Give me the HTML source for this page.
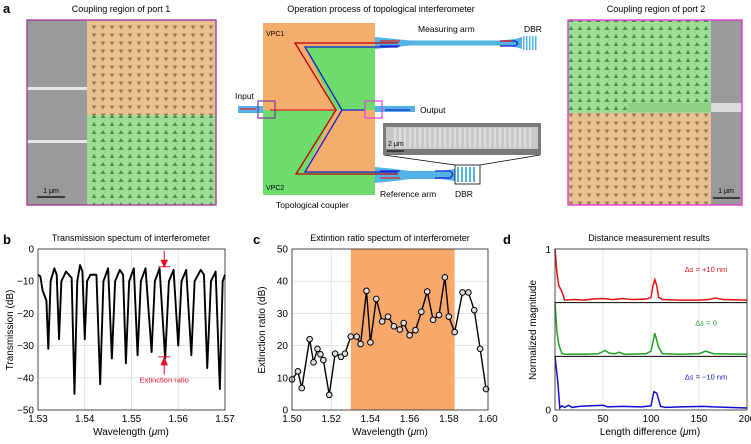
<!DOCTYPE html>
<html><head><meta charset="utf-8"><style>
body{margin:0;background:#fff;}
svg{display:block;font-family:"Liberation Sans",sans-serif;}
</style></head><body>
<svg id="fig" width="751" height="444" viewBox="0 0 751 444">
<defs>
<pattern id="triDown" width="9" height="8" patternUnits="userSpaceOnUse">
<rect width="9" height="8" fill="#e9c193"/><polygon points="1.5,1.5 6.5,1.5 4,5.5" fill="#9c7d55"/></pattern>
<pattern id="triUp" width="9" height="8" patternUnits="userSpaceOnUse">
<rect width="9" height="8" fill="#9fdc98"/><polygon points="1.5,6 6.5,6 4,2" fill="#4f8f4b"/></pattern>
</defs>
<text x="3" y="13" font-size="13" font-weight="bold">a</text>
<text x="121" y="12" font-size="9" text-anchor="middle">Coupling region of port 1</text>
<g>
<rect x="27" y="20" width="60" height="185" fill="#9a9a9a"/>
<rect x="27" y="87" width="60" height="3" fill="#e8e8e8"/>
<rect x="27" y="140" width="60" height="3" fill="#e8e8e8"/>
<rect x="87" y="20" width="129" height="95" fill="url(#triDown)"/>
<rect x="87" y="115" width="129" height="90" fill="url(#triUp)"/>
<line x1="37" y1="197" x2="65" y2="197" stroke="#000" stroke-width="1.2"/>
<text x="51" y="193" font-size="7" text-anchor="middle">1 μm</text>
<rect x="27" y="20" width="189" height="185" fill="none" stroke="#a0309a" stroke-width="1.3"/>
</g>
<text x="381" y="12" font-size="9" text-anchor="middle">Operation process of topological interferometer</text>
<g>
<rect x="263" y="23" width="112" height="172" fill="#f4ad6c"/>
<polygon points="305,46 375,46 375,110 335,110" fill="#6ddc6c"/>
<polygon points="263,110 335,110 305,172 375,172 375,195 263,195" fill="#6ddc6c"/>
</g>
<g fill="#52b4e6">
<rect x="238" y="106" width="25" height="7"/>
<polygon points="375,37 395,39 410,40.5 500,40.5 515,39 522,37 522,49 515,47 500,45.5 410,45.5 395,47 375,49"/>
<polygon points="375,167 395,169 410,171 440,171 455,169 455,181 440,179 410,179 395,181 375,183"/>
<rect x="375" y="106" width="40" height="6"/>
<rect x="522" y="36" width="14" height="14" fill="#fff"/>
</g>
<g fill="#52b4e6">
<rect x="523" y="36" width="1.5" height="14"/><rect x="526" y="36" width="1.5" height="14"/><rect x="529" y="36" width="1.5" height="14"/><rect x="532" y="36" width="1.5" height="14"/><rect x="535" y="36" width="1.5" height="14"/>
</g>
<g>
<rect x="455" y="165" width="25" height="19" fill="#fff" stroke="#000" stroke-width="0.8"/>
<g fill="#52b4e6"><rect x="457" y="167" width="2" height="15"/><rect x="461" y="167" width="2" height="15"/><rect x="465" y="167" width="2" height="15"/><rect x="469" y="167" width="2" height="15"/><rect x="473" y="167" width="2" height="15"/></g>
<line x1="455" y1="165" x2="384" y2="155" stroke="#000" stroke-width="0.7"/>
<line x1="480" y1="165" x2="540" y2="155" stroke="#000" stroke-width="0.7"/>
</g>
<g>
<rect x="383" y="123" width="158" height="32" fill="#7a7a7a"/>
<rect x="386" y="127" width="152" height="22" fill="#c8c8c8"/>
<g stroke="#f2f2f2" stroke-width="1">
<line x1="395" y1="128" x2="395" y2="148"/><line x1="400" y1="128" x2="400" y2="148"/><line x1="405" y1="128" x2="405" y2="148"/><line x1="410" y1="128" x2="410" y2="148"/><line x1="415" y1="128" x2="415" y2="148"/><line x1="420" y1="128" x2="420" y2="148"/><line x1="425" y1="128" x2="425" y2="148"/><line x1="430" y1="128" x2="430" y2="148"/><line x1="435" y1="128" x2="435" y2="148"/><line x1="440" y1="128" x2="440" y2="148"/><line x1="445" y1="128" x2="445" y2="148"/><line x1="450" y1="128" x2="450" y2="148"/><line x1="455" y1="128" x2="455" y2="148"/><line x1="460" y1="128" x2="460" y2="148"/><line x1="465" y1="128" x2="465" y2="148"/><line x1="470" y1="128" x2="470" y2="148"/><line x1="475" y1="128" x2="475" y2="148"/><line x1="480" y1="128" x2="480" y2="148"/><line x1="485" y1="128" x2="485" y2="148"/><line x1="490" y1="128" x2="490" y2="148"/><line x1="495" y1="128" x2="495" y2="148"/><line x1="500" y1="128" x2="500" y2="148"/><line x1="505" y1="128" x2="505" y2="148"/><line x1="510" y1="128" x2="510" y2="148"/><line x1="515" y1="128" x2="515" y2="148"/><line x1="520" y1="128" x2="520" y2="148"/><line x1="525" y1="128" x2="525" y2="148"/><line x1="530" y1="128" x2="530" y2="148"/></g>
<text x="388" y="146" font-size="7">2 μm</text>
<line x1="387" y1="151" x2="404" y2="151" stroke="#000" stroke-width="1"/>
</g>
<g fill="none" stroke-width="1.3">
<polyline points="398,43 295,43 336,110 296,174 398,174" stroke="#c00000"/>
<polyline points="398,47 305,47 342,110 305,172 398,172" stroke="#1a20d0"/>
<line x1="270" y1="110" x2="336" y2="110" stroke="#e02020"/>
<line x1="342" y1="110" x2="365" y2="110" stroke="#1a20d0"/>
<line x1="385" y1="110" x2="410" y2="110" stroke="#1a20d0"/>
<line x1="240" y1="109" x2="256" y2="109" stroke="#e02020"/>
<line x1="380" y1="41" x2="400" y2="41" stroke="#e02020"/><line x1="380" y1="46" x2="400" y2="46" stroke="#1a20d0"/>
<path d="M500,41 H515 Q520,43 515,46 H500" stroke="#1a20d0"/><line x1="500" y1="41" x2="512" y2="41" stroke="#e02020"/>
<line x1="380" y1="171" x2="400" y2="171" stroke="#1a20d0"/><line x1="380" y1="178" x2="400" y2="178" stroke="#e02020"/>
<path d="M435,171 H450 Q455,174 450,178 H435" stroke="#1a20d0"/>
</g>
<rect x="258" y="101" width="17" height="17" fill="none" stroke="#7d3a9a" stroke-width="1.2"/>
<rect x="365" y="101" width="17" height="17" fill="none" stroke="#e040e0" stroke-width="1.2"/>
<g font-size="8.5">
<text x="235" y="99">Input</text>
<text x="420" y="113">Output</text>
<text x="418" y="32">Measuring arm</text>
<text x="524" y="32">DBR</text>
<text x="380" y="197">Reference arm</text>
<text x="455" y="197">DBR</text>
<text x="276" y="208">Topological coupler</text>
<text x="266" y="36" font-size="7">VPC1</text>
<text x="266" y="190" font-size="7">VPC2</text>
</g>
<text x="656" y="12" font-size="9" text-anchor="middle">Coupling region of port 2</text>
<g>
<rect x="711" y="20" width="31" height="185" fill="#9a9a9a"/>
<rect x="568" y="20" width="143" height="93" fill="url(#triUp)"/>
<rect x="568" y="113" width="143" height="92" fill="url(#triDown)"/>
<rect x="628" y="103" width="83" height="9" fill="#8fcf88"/>
<rect x="711" y="103" width="31" height="9" fill="#dcdcdc"/>
<line x1="713" y1="198" x2="740" y2="198" stroke="#000" stroke-width="1.2"/>
<text x="726" y="193" font-size="7" text-anchor="middle">1 μm</text>
<rect x="568" y="20" width="174" height="185" fill="none" stroke="#e030d0" stroke-width="1.3"/>
</g>
<text x="3" y="244" font-size="13" font-weight="bold">b</text>
<text x="253" y="244" font-size="13" font-weight="bold">c</text>
<text x="503" y="244" font-size="13" font-weight="bold">d</text>
<g id="pb"></g><g id="pc"></g><g id="pd"></g>
</svg>
<script>
const bWl=[1.530,1.5305,1.531,1.5318,1.5322,1.5327,1.5335,1.534,1.5345,1.535,1.536,1.5372,1.5378,1.5384,1.539,1.5395,1.5400,1.5405,1.5412,1.5425,1.5433,1.544,1.545,1.5458,1.5465,1.5475,1.5482,1.5488,1.5495,1.5505,1.5513,1.552,1.553,1.5543,1.555,1.556,1.5572,1.558,1.559,1.5600,1.5607,1.5617,1.5628,1.5635,1.5648,1.5655,1.5662,1.567,1.568,1.5689,1.5695,1.570];
const bT=[-8,-8.5,-13,-16,-31,-10,-6,-8,-28,-10,-7,-9,-45,-10,-5,-7,-28,-10,-8,-8,-42,-10,-6,-34,-10,-6.5,-8,-35.5,-10,-6,-33,-10,-6,-32,-10,-6,-34,-10,-6.5,-30,-10,-6.5,-33,-10,-6.5,-8,-37,-10,-7,-43.5,-10,-8];
const bXTicks=[1.53,1.54,1.55,1.56,1.57];
const bYTicks=[0,-10,-20,-30,-40,-50];
const cWl=[1.500,1.503,1.505,1.509,1.511,1.513,1.5145,1.516,1.519,1.522,1.525,1.527,1.530,1.533,1.535,1.538,1.540,1.543,1.546,1.549,1.552,1.555,1.557,1.560,1.563,1.566,1.569,1.572,1.575,1.578,1.580,1.583,1.587,1.590,1.593,1.596,1.599];
const cER=[9.5,12,6.8,22,14.8,19,17.3,15.5,4.7,17.5,16.5,17.5,22.8,22.8,20.5,37,21,34.5,27.5,29,26,25,27,23.2,24.8,30.5,36.8,28,29.5,41.2,29,24.2,36.5,36.5,31,19,6.5];
const cBand=[1.53,1.583];
const cXTicks=[1.50,1.52,1.54,1.56,1.58,1.60];
const cYTicks=[0,10,20,30,40,50];
const dRedX=[0,2,4,7,10,20,30,40,50,60,70,80,95,100,102,104,106,108,112,130,150,160,167,175,200];
const dRedY=[1,0.55,0.3,0.2,0.03,0.04,0.03,0.05,0.06,0.04,0.06,0.04,0.05,0.08,0.3,0.42,0.3,0.08,0.04,0.03,0.03,0.04,0.07,0.04,0.03];
const dGreenX=[0,2,4,7,10,30,45,52,57,63,67,72,95,100,104,108,112,130,150,157,165,200];
const dGreenY=[1,0.45,0.2,0.04,0.02,0.02,0.03,0.09,0.04,0.03,0.06,0.02,0.03,0.08,0.42,0.15,0.03,0.02,0.03,0.08,0.03,0.02];
const dBlueX=[0,3,5,7,10,14,18,25,35,50,55,70,90,100,103,106,110,115,130,155,165,200];
const dBlueY=[1,0.5,0.02,0.06,0.03,0.07,0.03,0.05,0.06,0.07,0.04,0.05,0.04,0.06,0.33,0.3,0.05,0.03,0.04,0.05,0.04,0.02];
const dXTicks=[0,50,100,150,200];

const NS='http://www.w3.org/2000/svg';
function mk(p,tag,at){const e=document.createElementNS(NS,tag);for(const k in at)e.setAttribute(k,at[k]);p.appendChild(e);return e;}
function lin(d0,d1,r0,r1){return v=>r0+(v-d0)*(r1-r0)/(d1-d0);}
function axes(g,X,Y,x0,x1,y0,y1,xt,yt,fmtX,fmtY,grid){
  if(grid){
    xt.forEach(v=>{const l=mk(g,'line',{x1:X(v),x2:X(v),y1:y0,y2:y1,stroke:'#d8d8d8','stroke-width':0.7});
      
      });
    yt.forEach(v=>{const l=mk(g,'line',{x1:x0,x2:x1,y1:Y(v),y2:Y(v),stroke:'#d8d8d8','stroke-width':0.7});
      
      });
  }
  xt.forEach(v=>{const t=mk(g,'text',{x:X(v),y:y1+12,'font-size':10,'text-anchor':'middle'});t.textContent=fmtX(v);
    
    });
  yt.forEach(v=>{const t=mk(g,'text',{x:x0-4,y:Y(v)+3.5,'font-size':10,'text-anchor':'end'});t.textContent=fmtY(v);
    
    });
}
function frame(g,x0,y0,x1,y1){const r=mk(g,'rect',{x:x0,y:y0,width:x1-x0,height:y1-y0,fill:'none',stroke:'#222','stroke-width':0.8});
  
  }
function ttl(g,x,y,s,rot,name){const t=mk(g,'text',{x:x,y:y,'font-size':10,'text-anchor':'middle'});
  if(rot)t.setAttribute('transform','rotate(-90 '+x+' '+y+')');
  t.innerHTML=s;
  
  return t;}
const mu='(<tspan font-style="italic">μ</tspan>m)';
(function(){
 const g=document.getElementById('pb');
 const x0=38,x1=225,y0=249,y1=410;
 const X=lin(1.53,1.57,x0,x1),Y=lin(0,-50,y0,y1);
 axes(g,X,Y,x0,x1,y0,y1,bXTicks,bYTicks,v=>v.toFixed(2),v=>v===0?'0':'\u2212'+Math.abs(v),true);
 const pl=mk(g,'polyline',{points:bWl.map((w,i)=>X(w)+','+Y(bT[i])).join(' '),fill:'none',stroke:'#000','stroke-width':1.9,'stroke-linejoin':'round'});
 
 
 frame(g,x0,y0,x1,y1);
 const ax=X(1.557);
 const an=mk(g,'g',{stroke:'#e0102a',fill:'#e0102a','stroke-width':1});
 
 
 mk(an,'line',{x1:ax,x2:ax,y1:Y(-0.5),y2:Y(-5)});mk(an,'polygon',{points:(ax-3)+','+Y(-3.5)+' '+(ax+3)+','+Y(-3.5)+' '+ax+','+Y(-5.5)});
 mk(an,'line',{x1:ax-6,x2:ax+6,y1:Y(-5.5),y2:Y(-5.5)});
 mk(an,'line',{x1:ax-6,x2:ax+6,y1:Y(-33.5),y2:Y(-33.5)});
 mk(an,'line',{x1:ax,x2:ax,y1:Y(-34),y2:Y(-39)});mk(an,'polygon',{points:(ax-3)+','+Y(-36)+' '+(ax+3)+','+Y(-36)+' '+ax+','+Y(-33.8)});
 const et=mk(g,'text',{x:ax,y:Y(-40.5)+3,'font-size':7.5,fill:'#e0102a','text-anchor':'middle'});et.textContent='Extinction ratio';
 
 
 ttl(g,131,241,'Transmission spectum of interferometer',false,'panel-b-title').setAttribute('font-size','9');
 ttl(g,131,435,'Wavelength '+mu,false,'x-axis-title');
 ttl(g,13,330,'Transmission (dB)',true,'y-axis-title');
})();
(function(){
 const g=document.getElementById('pc');
 const x0=292,x1=488,y0=249,y1=410;
 const X=lin(1.50,1.60,x0,x1),Y=lin(50,0,y0,y1);
 axes(g,X,Y,x0,x1,y0,y1,cXTicks,cYTicks,v=>v.toFixed(2),v=>String(v),true);
 const b=mk(g,'rect',{x:X(cBand[0]),y:y0,width:X(cBand[1])-X(cBand[0]),height:y1-y0,fill:'#f9a86c'});
 
 
 const pl=mk(g,'polyline',{points:cWl.map((w,i)=>X(w)+','+Y(cER[i])).join(' '),fill:'none',stroke:'#000','stroke-width':1.4});
 
 
 cWl.forEach((w,i)=>{const c=mk(g,'circle',{cx:X(w),cy:Y(cER[i]),r:2.8,fill:'#ddd',stroke:'#000','stroke-width':1});
  
  });
 frame(g,x0,y0,x1,y1);
 ttl(g,390,241,'Extintion ratio spectum of interferometer',false,'panel-c-title').setAttribute('font-size','9');
 ttl(g,390,435,'Wavelength '+mu,false,'x-axis-title');
 ttl(g,265,330,'Extinction ratio (dB)',true,'y-axis-title');
})();
(function(){
 const g=document.getElementById('pd');
 const x0=555,x1=747,y0=249,y1=410;
 const X=lin(0,200,x0,x1);
 const h=(y1-y0)/3;
 axes(g,X,v=>0,x0,x1,y0,y1,dXTicks,[],v=>String(v),v=>'',false);
 [50,100,150].forEach(v=>{const l=mk(g,'line',{x1:X(v),x2:X(v),y1:y0,y2:y1,stroke:'#d8d8d8','stroke-width':0.7});
  
  });
 const series=[[dRedX,dRedY,'#e01010','red-trace','\u0394<tspan font-style="italic">s</tspan> = +10 nm'],[dGreenX,dGreenY,'#20a020','green-trace','\u0394<tspan font-style="italic">s</tspan> = 0'],[dBlueX,dBlueY,'#1010d0','blue-trace','\u0394<tspan font-style="italic">s</tspan> = \u221210 nm']];
 series.forEach((s,k)=>{
  const top=y0+k*h,bot=top+h;const Y=lin(0,1,bot-1,top);
  const pl=mk(g,'polyline',{points:s[0].map((v,i)=>X(v)+','+Y(s[1][i])).join(' '),fill:'none',stroke:s[2],'stroke-width':1.5});
  
  
  const t=mk(g,'text',{x:706,y:top+h*0.43,'font-size':7.5,fill:s[2],'text-anchor':'middle'});t.innerHTML=s[4];
  
  
  if(k>0){const l=mk(g,'line',{x1:x0,x2:x1,y1:top,y2:top,stroke:'#000','stroke-width':1});
   
   }
 });
 frame(g,x0,y0,x1,y1);
 const t1=mk(g,'text',{x:x0-4,y:y0+4,'font-size':10,'text-anchor':'end'});t1.textContent='1';
 
 
 const t0=mk(g,'text',{x:x0-4,y:y1+3.5,'font-size':10,'text-anchor':'end'});t0.textContent='0';
 
 
 ttl(g,649,241,'Distance measurement results',false,'panel-d-title').setAttribute('font-size','9');
 ttl(g,650,435,'Length difference '+mu,false,'x-axis-title');
 ttl(g,536,330,'Normalized magnitude',true,'y-axis-title');
})();
</script>
</body></html>
